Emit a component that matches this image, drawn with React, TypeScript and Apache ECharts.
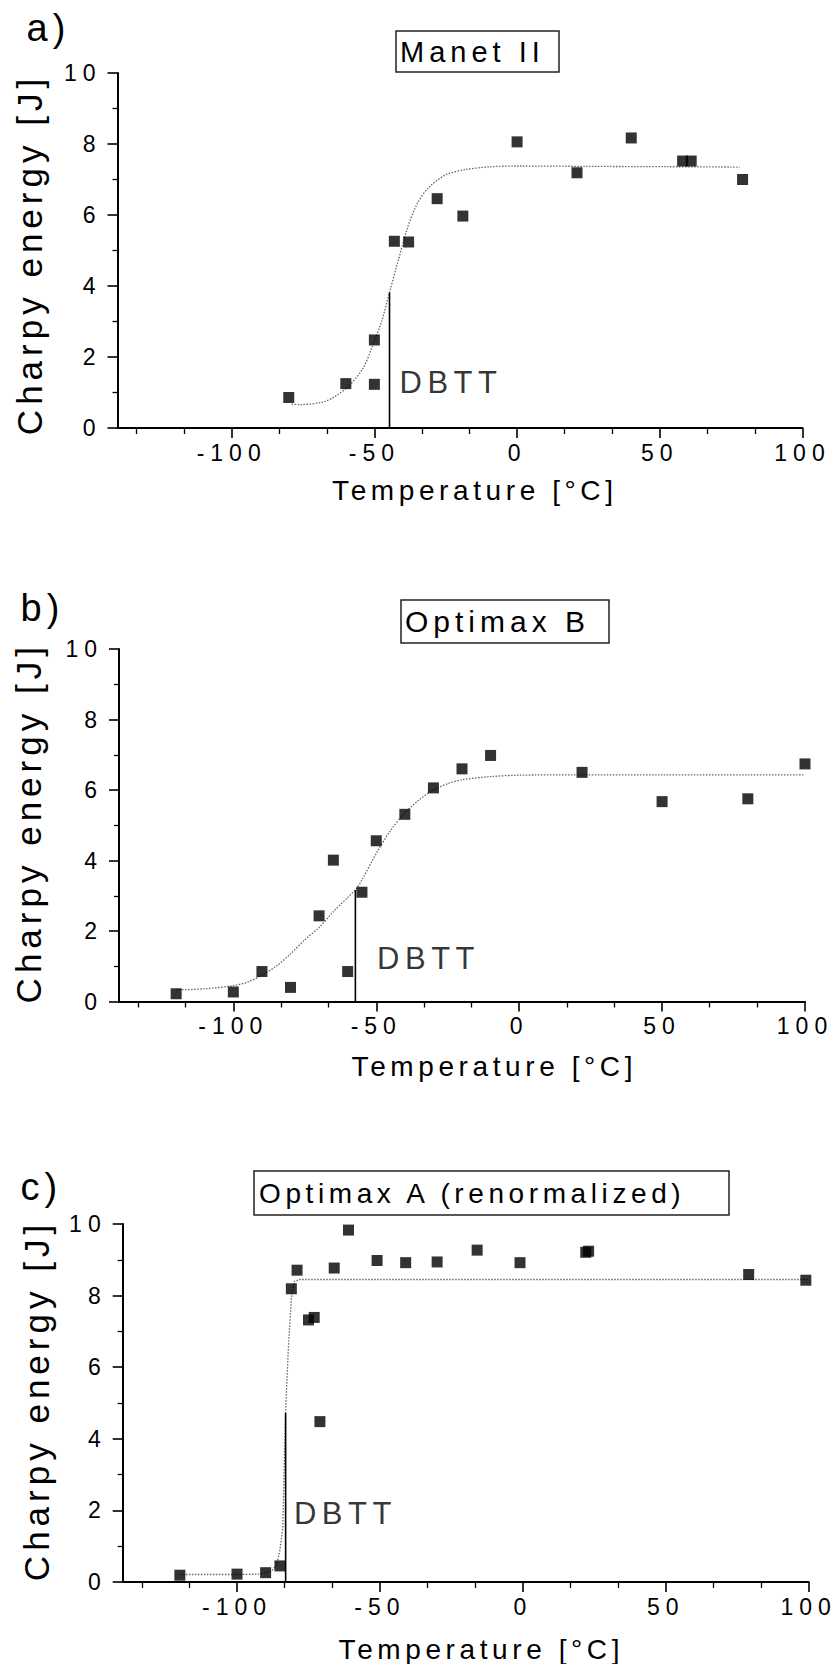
import React, { useEffect, useRef } from "react";
import * as echarts from "echarts";

const FONT = "Liberation Sans";

// ---------- data ----------
// a) Manet II
const tempA = [-80, -60, -50, -50, -43, -38, -28, -19, 0, 21, 40, 58, 61, 79];
const energyA = [0.86, 1.25, 1.23, 2.48, 5.26, 5.24, 6.46, 5.97, 8.06, 7.19, 8.17, 7.52, 7.52, 7.0];
const fitTempA = [-79, -76, -68, -64, -59, -54, -51, -47.5, -44.7, -42, -38.5, -35, -31, -25, -18, -9, 0, 25, 53, 78];
const fitEnergyA = [0.67, 0.66, 0.73, 0.88, 1.18, 1.68, 2.24, 2.99, 3.82, 4.61, 5.61, 6.32, 6.77, 7.13, 7.28, 7.36, 7.38, 7.37, 7.36, 7.35];

// b) Optimax B
const tempB = [-120, -100, -90, -80, -70, -65, -60, -55, -50, -40, -30, -20, -10, 22, 50, 80, 100];
const energyB = [0.22, 0.27, 0.85, 0.4, 2.43, 4.01, 0.85, 3.1, 4.56, 5.31, 6.06, 6.6, 6.98, 6.5, 5.67, 5.75, 6.74];
const fitTempB = [-120, -110, -100, -95, -90, -85, -80, -75, -70, -65, -60, -57, -55, -50, -45, -40, -35, -30, -25, -20, -10, 0, 20, 50, 80, 100];
const fitEnergyB = [0.33, 0.36, 0.45, 0.55, 0.75, 1.0, 1.35, 1.75, 2.1, 2.55, 2.95, 3.2, 3.45, 4.2, 4.85, 5.35, 5.72, 6.0, 6.18, 6.29, 6.38, 6.42, 6.43, 6.43, 6.43, 6.43];

// c) Optimax A (renormalized)
const tempC = [-120, -100, -90, -85, -81, -79, -75, -73, -71, -66, -61, -51, -41, -30, -16, -1, 22, 23, 79, 99];
const energyC = [0.19, 0.22, 0.26, 0.45, 8.19, 8.71, 7.32, 7.39, 4.48, 8.77, 9.83, 8.98, 8.92, 8.94, 9.27, 8.92, 9.21, 9.24, 8.59, 8.43];
const fitTempC = [-120, -100, -92, -88, -86, -85, -84, -83, -82, -81, -80, -78, 100];
const fitEnergyC = [0.21, 0.21, 0.22, 0.3, 0.5, 0.9, 1.5, 4.8, 6.6, 7.9, 8.4, 8.45, 8.45];

// DBTT markers
const dbttTemps = [-44.7, -57.3, -83.0];
const dbttTops = [3.82, 3.16, 4.72];
const dbttLabelTemps = [-41.2, -49.7, -80.1];
const dbttLabelEnergies = [1.28, 1.22, 1.91];

// axes / ticks / texts
const xMajorTicks = [-100, -50, 0, 50, 100];
const xMinorTicks = [-133.33, -116.67, -83.33, -66.67, -33.33, -16.67, 16.67, 33.33, 66.67, 83.33];
const panelLetters = ["a)", "b)", "c)"];
const panelTitles = ["Manet II", "Optimax B", "Optimax A (renormalized)"];
const xTitle = "Temperature [°C]";
const yTitle = "Charpy energy [J]";

// ---------- layout ----------
const grids = [
  { left: 117.5, top: 73, width: 685, height: 355 },
  { left: 119, top: 649, width: 686, height: 352.5 },
  { left: 122.7, top: 1224, width: 686, height: 359 },
];
const xNameGap = [48, 51, 53];
const xNamePadLeft = [29.6, 64.6, 31.2];
const yNameGap = [71, 73.5, 69];
const yNamePad = [
  [0, 8, 0, 0],
  [0, 0, 0, 5],
  [0, 0, 0, 5],
];
const titleBoxes = [
  { left: 396, top: 31, fs: 29, lh: 29, pad: [6, 4, 6, 4], w: 155.6 },
  { left: 401, top: 600, fs: 30, lh: 31, pad: [6, 4, 6, 4], w: 200.6 },
  { left: 254, top: 1171, fs: 28, lh: 32, pad: [6, 5, 6, 5], w: 465 },
];
const letterPos = [
  { left: 26.5, top: 8.5 },
  { left: 20.5, top: 588.5 },
  { left: 20.5, top: 1168 },
];

const css = `
#charpy-chart text[style*="23px"]{letter-spacing:6px}
#charpy-chart text[style*="38px"]{letter-spacing:5px}
#charpy-chart text[style*="29px"]{letter-spacing:5px}
#charpy-chart text[style*="30px"]{letter-spacing:5px}
#charpy-chart text[style*="28px"]{letter-spacing:4.6px}
#charpy-chart text[style*="31px"]{letter-spacing:5.5px}
#charpy-chart text[style*="35px"]{letter-spacing:5px}
`;

function pairs(xs: number[], ys: number[]) {
  return xs.map((x, i) => [x, ys[i]]);
}

function buildOption() {
  const xAxes: any[] = [];
  const yAxes: any[] = [];
  const series: any[] = [];
  const panels = [
    { t: tempA, e: energyA, ft: fitTempA, fe: fitEnergyA, smooth: 0.3 },
    { t: tempB, e: energyB, ft: fitTempB, fe: fitEnergyB, smooth: 0.3 },
    { t: tempC, e: energyC, ft: fitTempC, fe: fitEnergyC, smooth: false },
  ];

  panels.forEach((p, i) => {
    xAxes.push({
      type: "value",
      gridIndex: i,
      position: "bottom",
      min: -140,
      max: 100,
      name: xTitle,
      nameLocation: "middle",
      nameGap: xNameGap[i],
      nameTextStyle: {
        fontFamily: FONT,
        fontSize: 28,
        color: "#000",
        padding: [0, 0, 0, xNamePadLeft[i]],
      },
      axisLine: { show: true, onZero: false, lineStyle: { color: "#000", width: 2 } },
      axisTick: {
        show: true,
        customValues: xMajorTicks,
        length: 10,
        lineStyle: { color: "#000", width: 1.6 },
      },
      axisLabel: {
        customValues: xMajorTicks,
        fontFamily: FONT,
        fontSize: 23,
        color: "#000",
        margin: 13,
      },
      splitLine: { show: false },
    });
    xAxes.push({
      type: "value",
      gridIndex: i,
      position: "bottom",
      min: -140,
      max: 100,
      axisLine: { show: false, onZero: false },
      axisLabel: { show: false },
      axisTick: {
        show: true,
        customValues: xMinorTicks,
        length: 6,
        lineStyle: { color: "#000", width: 1.3 },
      },
      splitLine: { show: false },
    });
    yAxes.push({
      type: "value",
      gridIndex: i,
      position: "left",
      min: 0,
      max: 10,
      interval: 2,
      name: yTitle,
      nameLocation: "middle",
      nameRotate: 90,
      nameGap: yNameGap[i],
      nameTextStyle: {
        fontFamily: FONT,
        fontSize: 35,
        lineHeight: 35,
        color: "#000",
        padding: yNamePad[i],
      },
      axisLine: { show: true, onZero: false, lineStyle: { color: "#000", width: 2 } },
      axisTick: { show: true, length: 10, lineStyle: { color: "#000", width: 1.6 } },
      minorTick: { show: true, splitNumber: 2, length: 5, lineStyle: { color: "#000", width: 1.3 } },
      axisLabel: { fontFamily: FONT, fontSize: 23, color: "#000", margin: 16 },
      splitLine: { show: false },
      minorSplitLine: { show: false },
    });

    const xi = 2 * i;
    series.push({
      type: "line",
      xAxisIndex: xi,
      yAxisIndex: i,
      data: pairs(p.ft, p.fe),
      showSymbol: false,
      smooth: p.smooth,
      lineStyle: { color: "#666", width: 1.3, type: [1.5, 1.5] },
      z: 2,
    });
    series.push({
      type: "line",
      xAxisIndex: xi,
      yAxisIndex: i,
      data: [
        [dbttTemps[i], 0],
        [dbttTemps[i], dbttTops[i]],
      ],
      showSymbol: false,
      lineStyle: { color: "#000", width: 1.6 },
      z: 3,
    });
    series.push({
      type: "scatter",
      xAxisIndex: xi,
      yAxisIndex: i,
      data: pairs(p.t, p.e),
      symbol: "rect",
      symbolSize: 11,
      itemStyle: { color: "#000" },
      z: 4,
    });
    series.push({
      type: "scatter",
      xAxisIndex: xi,
      yAxisIndex: i,
      data: [[dbttLabelTemps[i], dbttLabelEnergies[i]]],
      symbolSize: 0,
      label: {
        show: true,
        formatter: "DBTT",
        position: "right",
        distance: 0,
        fontFamily: FONT,
        fontSize: 31,
        color: "#000",
      },
      z: 5,
    });
  });

  const titles = titleBoxes.map((b, i) => ({
    text: panelTitles[i],
    left: b.left,
    top: b.top,
    padding: b.pad,
    borderWidth: 1.5,
    borderColor: "#222",
    textStyle: {
      fontFamily: FONT,
      fontSize: b.fs,
      lineHeight: b.lh,
      fontWeight: "normal",
      color: "#000",
      width: b.w,
    },
  }));

  const graphic = letterPos.map((p, i) => ({
    type: "text",
    left: p.left,
    top: p.top,
    style: { text: panelLetters[i], fontFamily: FONT, fontSize: 38, fill: "#000" },
  }));

  return {
    animation: false,
    backgroundColor: "#fff",
    title: titles,
    grid: grids.map((g) => ({ ...g, containLabel: false })),
    xAxis: xAxes,
    yAxis: yAxes,
    series,
    graphic,
  };
}

export default function App() {
  const ref = useRef<HTMLDivElement>(null);
  useEffect(() => {
    if (!ref.current) return;
    const chart = echarts.init(ref.current, null, { renderer: "svg" });
    chart.setOption(buildOption() as any);
    return () => chart.dispose();
  }, []);
  return (
    <>
      <style>{css}</style>
      <div
        id="charpy-chart"
        ref={ref}
        style={{ position: "absolute", left: 0, top: 0, width: 837, height: 1664, background: "#fff" }}
      />
    </>
  );
}
